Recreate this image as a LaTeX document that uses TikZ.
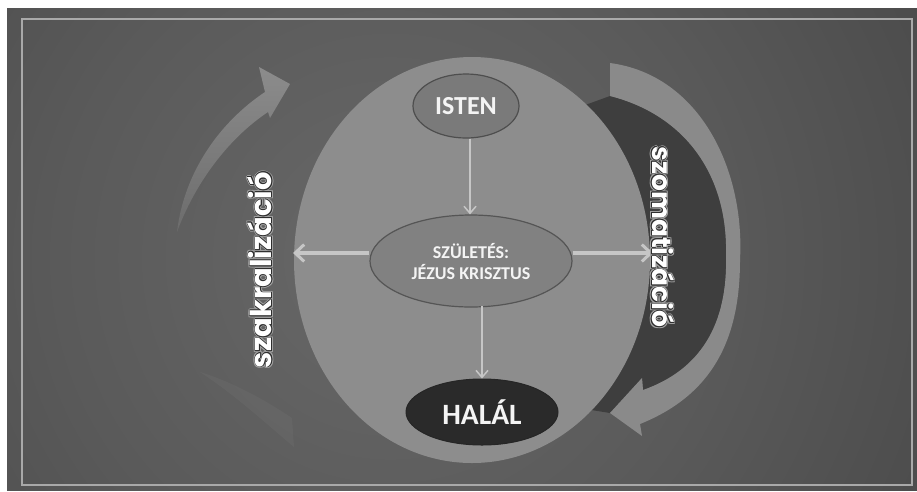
\documentclass[tikz,border=0pt]{standalone}
\usepackage{fontspec}
\setmainfont{Carlito}
\newfontfamily\labelfont{Poppins}
\usetikzlibrary{shapes.geometric,arrows.meta,calc}
\definecolor{bgin}{HTML}{686868}
\definecolor{bgmid}{HTML}{5A5A5A}
\definecolor{bgout}{HTML}{3C3C3C}
\definecolor{frameline}{HTML}{A9A9A9}
\definecolor{bigell}{HTML}{8D8D8D}
\definecolor{istenfill}{HTML}{7A7A7A}
\definecolor{istenline}{HTML}{4E4E4E}
\definecolor{szulfill}{HTML}{818181}
\definecolor{szulline}{HTML}{555555}
\definecolor{halalfill}{HTML}{2A2A2A}
\definecolor{arrowc}{HTML}{C6C6C6}
\definecolor{bandc}{HTML}{8A8A8A}
\definecolor{leftarrtop}{HTML}{8C8C8C}
\definecolor{leftarrbot}{HTML}{6C6C6C}
\definecolor{crescent}{HTML}{3E3E3E}
\definecolor{glowc}{HTML}{A0A0A0}
\definecolor{outc}{HTML}{2E2E2E}
\definecolor{txtc}{HTML}{F4F4F4}
\pgfdeclareradialshading{bgshade}{\pgfpoint{0bp}{0bp}}{color(0bp)=(bgin); color(9bp)=(bgmid); color(24bp)=(bgout); color(50bp)=(bgout)}
\tikzset{
  oval/.style={ellipse, inner sep=0pt},
  inner/.style={text=txtc, font=\bfseries},
  thinarrow/.style={draw=arrowc, line width=1.5pt, -{Straight Barb[length=7pt,width=12pt,line width=1.5pt]}},
  thickarrow/.style={draw=arrowc, line width=3.5pt, -{Straight Barb[length=9pt,width=17pt,line width=3pt]}},
  lbl/.style={inner sep=0pt, font=\labelfont\bfseries\fontsize{#1}{#1}\selectfont},
}
\newcommand\glowlabel[6]{%
  \foreach \gx/\gy [count=\gi] in {1.8/0,-1.8/0,0/1.8,0/-1.8,1.3/1.3,-1.3/1.3,1.3/-1.3,-1.3/-1.3} {
    \node[lbl=#5, rotate=#4, text=glowc] (#1g\gi) at (#2+\gx,#3+\gy) {#6};}
  \foreach \gx/\gy [count=\gi] in {.8/0,-.8/0,0/.8,0/-.8,.55/.55,-.55/.55,.55/-.55,-.55/-.55} {
    \node[lbl=#5, rotate=#4, text=outc] (#1o\gi) at (#2+\gx,#3+\gy) {#6};}
  \node[lbl=#5, rotate=#4, text=white] (#1) at (#2,#3) {#6};
}
\begin{document}
\begin{tikzpicture}[x=1pt,y=-1pt]
\useasboundingbox (0,0) rectangle (917,491);
\fill[white] (0,0) rectangle (917,491);
\begin{scope}
  \clip (7,8) rectangle (917,490);
  \fill[bgout] (7,8) rectangle (917,490);
  \shade[shading=bgshade] (390,258) circle (920);
\end{scope}
\draw[frameline, line width=1.6pt] (22,19) rectangle (912,485);

% faint reflection on the left
\fill[white, opacity=0.035] (200,372) .. controls (235,395) and (262,420) .. (294,447)
  -- (292,418) .. controls (262,398) and (232,382) .. (200,372) -- cycle;

% left curved arrow
\shade[top color=leftarrtop, bottom color=leftarrbot] (177,232) .. controls (184,172) and (220,122) .. (265,92)
  -- (259,67) -- (290,84) -- (270,118) -- (268,112)
  .. controls (226,140) and (194,186) .. (177,232) -- cycle;

% dark crescent behind the right arrow
\fill[crescent] (610,96) .. controls (685,115) and (728,175) .. (726,255)
  .. controls (728,325) and (700,370) .. (643,390)
  -- (642,378) -- (610,413) -- (560,405) -- (560,115) -- (588,104) -- cycle;

% main ellipse
\node[oval, fill=bigell, minimum width=356pt, minimum height=406pt] (big) at (472,260) {};

% right curved arrow
\fill[bandc] (610,63) .. controls (700,75) and (745,170) .. (740,260)
  .. controls (740,340) and (712,395) .. (640,424)
  -- (642,436) -- (610,413) -- (642,378) -- (643,390)
  .. controls (700,370) and (728,325) .. (726,255)
  .. controls (728,175) and (685,115) .. (610,96) -- cycle;

% inner nodes
\node[oval, fill=istenfill, draw=istenline, line width=1.2pt, minimum width=106pt, minimum height=64pt, inner, font=\bfseries\fontsize{26}{26}\selectfont] (isten) at (466,106) {ISTEN};
\node[oval, fill=szulfill, draw=szulline, line width=1.2pt, minimum width=202pt, minimum height=92pt, inner, align=center, font=\bfseries\fontsize{18}{21}\selectfont] (szul) at (471,261) {SZÜLETÉS:\\JÉZUS KRISZTUS};
\node[oval, fill=halalfill, draw=black!85, line width=1pt, minimum width=152pt, minimum height=66pt, inner, font=\bfseries\fontsize{29.5}{29.5}\selectfont] (halal) at (482,412) {HALÁL};

% connectors
\coordinate (ltip) at (293,253);
\coordinate (rtip) at (653,253);
\coordinate (s1) at (470,139);
\coordinate (s2) at (482,306);
\draw[thinarrow] (s1) -- (s1 |- szul.north);
\draw[thinarrow] (s2) -- (s2 |- halal.north);
\draw[thickarrow] (ltip -| szul.west) -- (ltip);
\draw[thickarrow] (rtip -| szul.east) -- (rtip);

% rotated labels
\glowlabel{szak}{260}{270}{90}{29}{szakralizáció}
\glowlabel{szom}{663}{237}{-90}{26.5}{szomatizáció}
\end{tikzpicture}
\end{document}
